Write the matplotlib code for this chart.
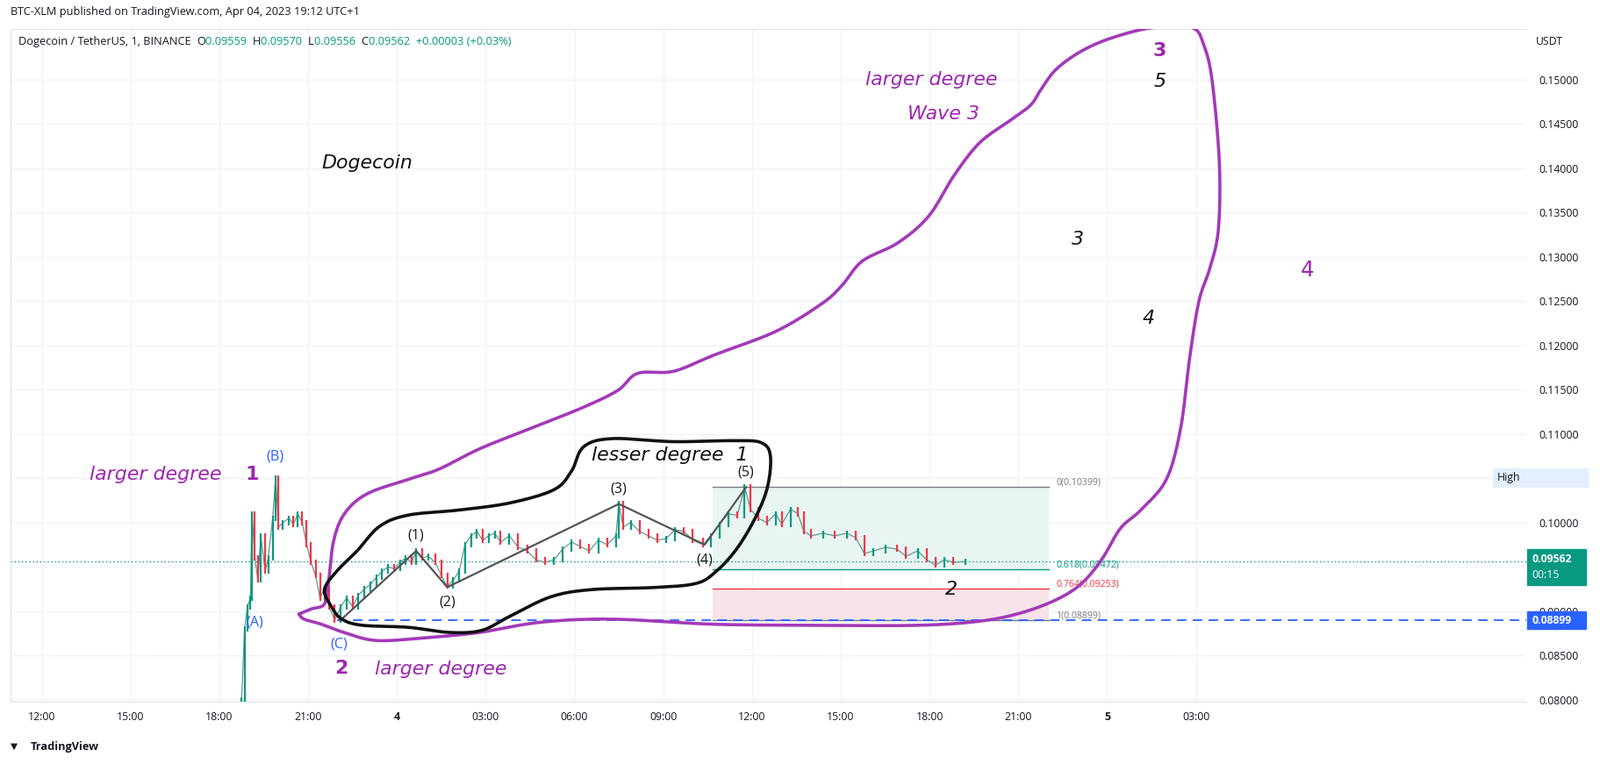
import numpy as np
import matplotlib
matplotlib.use("Agg")
import matplotlib.pyplot as plt

# ---------------- data ----------------
times = [18.75,18.85,18.95,19.05,19.10,19.20,19.30,19.40,19.55,19.65,19.80,19.90,20.00,20.15,20.35,20.50,20.65,20.80,20.95,21.10,
         21.25,21.40,21.55,21.70,21.90,22.10,22.30,22.50,22.70,22.90,23.10,23.30,23.50,23.70,23.90,24.10,24.30,24.50,24.65,24.85,
         25.05,25.30,25.50,25.70,25.90,26.10,26.30,26.50,26.70,26.90,27.10,27.30,27.50,27.80,28.10,28.40,28.70,29.00,29.30,29.60,
         29.90,30.20,30.50,30.80,31.10,31.40,31.50,31.65,31.90,32.20,32.50,32.80,33.10,33.40,33.70,34.00,34.35,34.60,34.90,35.20,
         35.50,35.75,35.95,36.20,36.50,36.80,37.00,37.30,37.55,37.75,38.00,38.40,38.80,39.20,39.50,39.80,40.10,40.50,40.90,41.20,
         41.60,41.90,42.20,42.50,42.80,43.20]
closes = [0.0800,0.0880,0.0905,0.0915,0.1010,0.0960,0.0935,0.0985,0.0945,0.0960,0.1005,0.1050,0.0995,0.1000,0.1005,0.0998,0.1010,0.1000,0.0975,0.0955,
          0.0940,0.0915,0.0925,0.0905,0.0890,0.0905,0.0915,0.0905,0.0918,0.0925,0.0930,0.0938,0.0945,0.0950,0.0948,0.0955,0.0960,0.0955,0.0968,0.0960,
          0.0962,0.0955,0.0940,0.0928,0.0935,0.0945,0.0975,0.0985,0.0990,0.0980,0.0985,0.0988,0.0978,0.0985,0.0972,0.0968,0.0958,0.0955,0.0958,0.0970,
          0.0978,0.0973,0.0968,0.0980,0.0975,0.0985,0.1021,0.0995,0.1000,0.0990,0.0985,0.0980,0.0982,0.0992,0.0990,0.0980,0.0975,0.0985,0.0998,0.1010,
          0.1008,0.1040,0.1015,0.1005,0.1000,0.1010,0.0998,0.1015,0.1010,0.0990,0.0985,0.0988,0.0985,0.0988,0.0983,0.0965,0.0968,0.0972,0.0970,0.0962,
          0.0968,0.0958,0.0952,0.0958,0.0955,0.0956]
wave_t = [22.10, 24.65, 25.70, 31.50, 34.40, 35.80]
wave_p = [0.0890, 0.0968, 0.0927, 0.1021, 0.0975, 0.1040]
wave_lbl = ["", "(1)", "(2)", "(3)", "(4)", "(5)"]
fib_levels = [0.10399, 0.09472, 0.09253, 0.08899]
fib_names = ["0(0.10399)", "0.618(0.09472)", "0.764(0.09253)", "1(0.08899)"]
fib_t0, fib_t1 = 34.66, 46.03
last_price = 0.09562
low_line = 0.08899
xtick_pos = [12, 15, 18, 21, 24, 27, 30, 33, 36, 39, 42, 45, 48, 51]
xtick_lbl = ["12:00","15:00","18:00","21:00","4","03:00","06:00","09:00","12:00","15:00","18:00","21:00","5","03:00"]
ytick_pos = [0.08 + 0.005*i for i in range(15)]

# ---------------- layout helpers (reference pixel grid 1568x749) ----------------
W, H = 1568.0, 749.0
def X(px): return 12 + (px - 41) / 29.0
def Y(py): return 0.15 - (py - 78) / 608.0 * 0.07
FS = 1823 / W * 0.72  # px(displayed) -> pt
UI = "Open Sans"

fig = plt.figure(figsize=(18.23, 8.71), dpi=100)
ax = fig.add_axes([10/W, 1-688/H, (1496-10)/W, (688-28)/H])
ax.set_xlim(X(10), X(1496))
ax.set_ylim(Y(688), Y(28))
for s in ax.spines.values():
    s.set_color("#e0e3eb")
ax.spines['right'].set_visible(False)

GR = "#f0f3fa"
for xp in xtick_pos:
    ax.axvline(xp, color=GR, lw=1, zorder=0)
for yp in ytick_pos:
    ax.axhline(yp, color=GR, lw=1, zorder=0)

ax.set_xticks(xtick_pos)
ax.set_xticklabels(xtick_lbl, fontsize=10.5*FS, color="#131722", family=UI)
for tl, l in zip(ax.get_xticklabels(), xtick_lbl):
    if l in ("4", "5"):
        tl.set_fontweight("bold")
ax.tick_params(axis='x', length=0, pad=8)
ax.yaxis.tick_right()
ax.set_yticks(ytick_pos)
ax.set_yticklabels([f"{v:.5f}" for v in ytick_pos], fontsize=10.5*FS, color="#131722", family=UI)
ax.tick_params(axis='y', length=0, pad=10)

# fib box
ax.fill_between([fib_t0, fib_t1], fib_levels[1], fib_levels[0], color="#e8f5f2", zorder=1, lw=0)
ax.fill_between([fib_t0, fib_t1], fib_levels[3], fib_levels[2], color="#f7e4ea", zorder=1, lw=0)
fcol = ["#787b86", "#089981", "#f23645", "#787b86"]
for lv, nm, c in zip(fib_levels, fib_names, fcol):
    ax.plot([fib_t0, fib_t1], [lv, lv], color=c, lw=1, zorder=2)
    ax.text(fib_t1 + 0.25, lv + 0.0005, nm, color=c, fontsize=9*FS, va="center", ha="left", family=UI)

# lines
ax.axhline(last_price, color="#089981", lw=1, ls=(0, (1, 2)), zorder=2)
ax.plot([X(330), X(1496)], [low_line, low_line], color="#2962ff", lw=1.3, ls=(0, (6, 4)), zorder=2)

# candles
ax.plot(times, closes, color="#5a9e8e", lw=0.9, zorder=3)
prev = closes[0]
for tm, c in zip(times, closes):
    col = "#089981" if c >= prev else "#f23645"
    lo, hi = min(prev, c), max(prev, c)
    ax.vlines(tm, lo - 0.0003, hi + 0.0003, color=col, lw=1.6, zorder=3)
    prev = c

# wave zigzag
ax.plot(wave_t, wave_p, color="#555555", lw=1.6, zorder=4)
off = [0, 0.0017, -0.0017, 0.0017, -0.0017, 0.0017]
for tm, p, l, o in zip(wave_t, wave_p, wave_lbl, off):
    if l:
        ax.text(tm, p + o, l, ha="center", va="center", fontsize=14*FS, color="#131722", family=UI, zorder=6)

# smoothing helper for freehand drawings
def smooth(pts, closed=False, n=12):
    P = np.array(pts, float)
    if closed:
        P = np.vstack([P[-1], P, P[0], P[1]])
    else:
        P = np.vstack([P[0], P, P[-1]])
    out = []
    for i in range(1, len(P) - 2):
        p0, p1, p2, p3 = P[i-1], P[i], P[i+1], P[i+2]
        for tt in np.linspace(0, 1, n, endpoint=False):
            t2, t3 = tt*tt, tt*tt*tt
            out.append(0.5*((2*p1) + (-p0+p2)*tt + (2*p0-5*p1+4*p2-p3)*t2 + (-p0+3*p1-3*p2+p3)*t3))
    out.append(P[-2])
    out = np.array(out)
    return X(out[:, 0]), Y(out[:, 1])

purple = [(293,602),(305,597),(318,592),(322,570),(327,530),(338,503),(360,484),(400,470),(430,460),(470,440),(520,420),
          (570,400),(605,383),(625,366),(660,364),(700,348),(760,325),(805,298),(825,280),(845,256),(880,238),(910,212),
          (935,172),(960,140),(990,118),(1010,103),(1020,88),(1035,68),(1060,50),(1090,37),(1130,27),(1168,27),(1180,45),
          (1188,80),(1195,160),(1194,225),(1186,262),(1175,295),(1166,350),(1157,420),(1143,470),(1118,500),(1098,518),
          (1080,548),(1060,572),(1035,588),(1000,601),(960,609),(900,613),(800,613),(700,612),(600,607),(530,610),
          (470,620),(420,625),(370,628),(340,621),(315,612),(298,607),(293,602)]
px_, py_ = smooth(purple)
ax.plot(px_, py_, color="#a33ab8", lw=2.6, zorder=5, solid_capstyle="round")

black = [(318,578),(325,595),(335,607),(355,613),(400,615),(440,620),(472,618),(500,604),(540,585),(580,578),(640,576),
         (682,572),(702,560),(722,538),(740,508),(752,478),(755,447),(746,434),(720,432),(660,433),(600,430),(572,438),
         (560,462),(543,480),(500,493),(450,500),(400,505),(372,516),(350,540),(330,560)]
bx, by = smooth(black, closed=True)
ax.plot(bx, by, color="#111111", lw=2.6, zorder=5)

# labels
BL = "#2962ff"
for lbl, (x, y) in {"(A)": (250, 610), "(B)": (270, 448), "(C)": (332, 632)}.items():
    ax.text(X(x), Y(y), lbl, color=BL, fontsize=14*FS, ha="center", va="center", family=UI, zorder=6)

PU = "#9c27b0"
def t(x, y, s, c, size=19, style="italic", weight="normal", ha="left"):
    ax.text(X(x), Y(y), s, color=c, fontsize=size*FS, style=style, weight=weight, ha=ha, va="center",
            family="DejaVu Sans", zorder=6)
t(88, 465, "larger degree", PU)
t(240, 465, "1", PU, style="normal", weight="bold")
t(328, 655, "2", PU, style="normal", weight="bold")
t(367, 656, "larger degree", PU)
t(848, 78, "larger degree", PU)
t(889, 112, "Wave 3", PU)
t(1136, 50, "3", PU, style="normal", weight="bold", ha="center")
t(1281, 265, "4", PU, style="normal", weight="normal", ha="center", size=21)
K = "#111111"
t(315, 160, "Dogecoin", K)
t(580, 446, "lesser degree  1", K)
t(1137, 80, "5", K, ha="center")
t(1056, 235, "3", K, ha="center")
t(1126, 312, "4", K, ha="center")
t(932, 578, "2", K, ha="center")

# price-axis labels
fig.patches.append(plt.Rectangle((1497/W, 1-617/H), 57/W, 18/H, transform=fig.transFigure, color="#2962ff", zorder=10))
fig.text(1501/W, 1-608/H, "0.08899", color="white", fontsize=10.5*FS, va="center", weight="bold", family=UI, zorder=11)
fig.patches.append(plt.Rectangle((1497/W, 1-574/H), 57/W, 36/H, transform=fig.transFigure, color="#089981", zorder=10))
fig.text(1501/W, 1-548/H, "0.09562", color="white", fontsize=10.5*FS, va="center", weight="bold", family=UI, zorder=11)
fig.text(1501/W, 1-564/H, "00:15", color="white", fontsize=10.5*FS, va="center", family=UI, zorder=11)
fig.patches.append(plt.Rectangle((1463/W, 1-477/H), 93/W, 18/H, transform=fig.transFigure, color="#e3effd", zorder=0))
fig.text(1467/W, 1-468/H, "High", color="#131722", fontsize=10.5*FS, va="center", family=UI, zorder=11)

# header texts
fig.text(10/W, 1-12/H, "BTC-XLM published on TradingView.com, Apr 04, 2023 19:12 UTC+1", fontsize=11*FS,
         color="#131722", va="center", family=UI)
parts = [("Dogecoin / TetherUS, 1, BINANCE  ", "#131722"), ("O", "#131722"), ("0.09559  ", "#089981"),
         ("H", "#131722"), ("0.09570  ", "#089981"), ("L", "#131722"), ("0.09556  ", "#089981"),
         ("C", "#131722"), ("0.09562  +0.00003 (+0.03%)", "#089981")]
xx = 18 / W
r = fig.canvas.get_renderer()
for s, c in parts:
    tx = fig.text(xx, 1-41/H, s, fontsize=11*FS, color=c, va="center", family=UI)
    bb = tx.get_window_extent(renderer=r)
    xx += bb.width / fig.bbox.width
fig.text(1505/W, 1-41/H, "USDT", fontsize=10.5*FS, color="#131722", va="center", family=UI)
fig.text(10/W, 1-732/H, "\u25BC", fontsize=9*FS, color="#131722", va="center")
fig.text(30/W, 1-732/H, "TradingView", fontsize=11*FS, color="#131722", va="center", family=UI, weight="bold")

fig.savefig("out.png", dpi=100, facecolor="white")
